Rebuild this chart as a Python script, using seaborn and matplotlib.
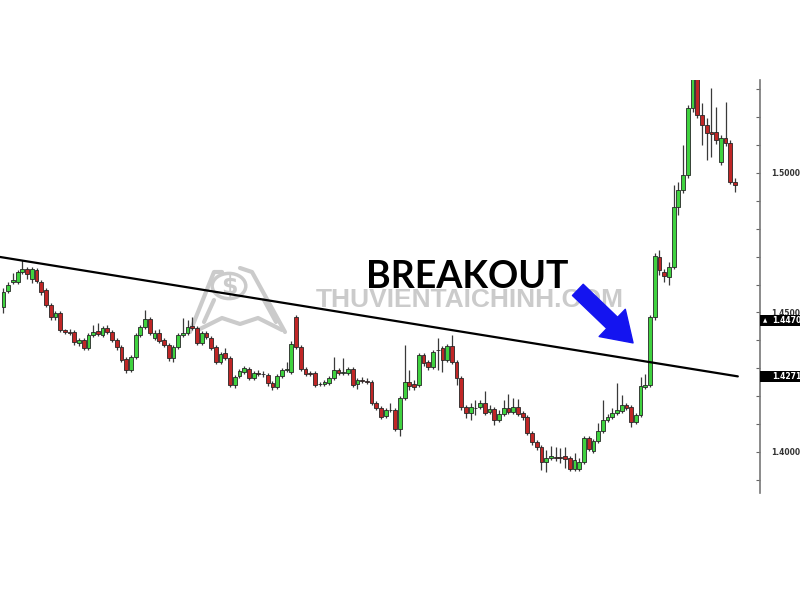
"""Candlestick chart: descending trendline and the breakout above it."""
import matplotlib
matplotlib.use("Agg")
import matplotlib.pyplot as plt
import matplotlib.transforms as mtransforms
from matplotlib.patches import Rectangle, Circle
from matplotlib.lines import Line2D
import numpy as np
import pandas as pd
import seaborn as sns

OPEN = [
    1.4520, 1.4577, 1.4609, 1.4609, 1.4645, 1.4656, 1.4620, 1.4652, 1.4609, 1.4581,
    1.4527, 1.4484, 1.4498, 1.4437, 1.4430, 1.4430, 1.4391, 1.4401, 1.4373, 1.4419,
    1.4434, 1.4419, 1.4444, 1.4430, 1.4401, 1.4377, 1.4334, 1.4294, 1.4341, 1.4419,
    1.4448, 1.4477, 1.4408, 1.4426, 1.4401, 1.4384, 1.4337, 1.4377, 1.4419, 1.4426,
    1.4452, 1.4444, 1.4391, 1.4426, 1.4408, 1.4377, 1.4323, 1.4355, 1.4337, 1.4240,
    1.4272, 1.4287, 1.4298, 1.4265, 1.4283, 1.4280, 1.4276, 1.4247, 1.4233, 1.4272,
    1.4294, 1.4287, 1.4484, 1.4377, 1.4298, 1.4283, 1.4283, 1.4244, 1.4244, 1.4247,
    1.4265, 1.4294, 1.4283, 1.4283, 1.4298, 1.4244, 1.4258, 1.4254, 1.4251, 1.4176,
    1.4158, 1.4129, 1.4151, 1.4151, 1.4083, 1.4194, 1.4251, 1.4244, 1.4240, 1.4348,
    1.4323, 1.4305, 1.4366, 1.4373, 1.4330, 1.4380, 1.4323, 1.4265, 1.4161, 1.4140,
    1.4158, 1.4161, 1.4176, 1.4144, 1.4154, 1.4115, 1.4136, 1.4158, 1.4144, 1.4161,
    1.4140, 1.4126, 1.4068, 1.4036, 1.4018, 1.3964, 1.3978, 1.3982, 1.3982, 1.3986,
    1.3978, 1.3939, 1.3939, 1.3964, 1.4050, 1.4004, 1.4040, 1.4076, 1.4115, 1.4126,
    1.4140, 1.4147, 1.4168, 1.4161, 1.4108, 1.4133, 1.4233, 1.4240, 1.4484, 1.4699,
    1.4645, 1.4627, 1.4663, 1.4878, 1.4939, 1.4993, 1.5233, 1.5340, 1.5208, 1.5172,
    1.5147, 1.5147, 1.5039, 1.5125, 1.5108, 1.4968,
]
HIGH = [
    1.4588, 1.4609, 1.4641, 1.4652, 1.4688, 1.4663, 1.4663, 1.4659, 1.4616, 1.4588,
    1.4534, 1.4505, 1.4505, 1.4441, 1.4441, 1.4437, 1.4408, 1.4408, 1.4426, 1.4455,
    1.4462, 1.4452, 1.4455, 1.4437, 1.4408, 1.4384, 1.4341, 1.4348, 1.4426, 1.4455,
    1.4509, 1.4484, 1.4437, 1.4441, 1.4408, 1.4391, 1.4384, 1.4426, 1.4480, 1.4473,
    1.4484, 1.4452, 1.4434, 1.4434, 1.4416, 1.4384, 1.4359, 1.4373, 1.4344, 1.4276,
    1.4298, 1.4309, 1.4305, 1.4290, 1.4294, 1.4290, 1.4283, 1.4254, 1.4280, 1.4301,
    1.4323, 1.4398, 1.4491, 1.4384, 1.4305, 1.4290, 1.4290, 1.4251, 1.4258, 1.4272,
    1.4341, 1.4301, 1.4337, 1.4305, 1.4305, 1.4265, 1.4269, 1.4265, 1.4258, 1.4183,
    1.4165, 1.4158, 1.4176, 1.4158, 1.4201, 1.4384, 1.4294, 1.4258, 1.4355, 1.4355,
    1.4330, 1.4366, 1.4408, 1.4380, 1.4387, 1.4419, 1.4330, 1.4272, 1.4168, 1.4176,
    1.4186, 1.4186, 1.4219, 1.4168, 1.4161, 1.4151, 1.4186, 1.4208, 1.4194, 1.4190,
    1.4147, 1.4133, 1.4076, 1.4043, 1.4025, 1.4007, 1.4022, 1.4018, 1.4014, 1.4018,
    1.3986, 1.3996, 1.3978, 1.4058, 1.4058, 1.4047, 1.4104, 1.4186, 1.4136, 1.4158,
    1.4247, 1.4204, 1.4176, 1.4168, 1.4140, 1.4269, 1.4280, 1.4491, 1.4713, 1.4724,
    1.4656, 1.4681, 1.4957, 1.4968, 1.5100, 1.5244, 1.5369, 1.5351, 1.5251, 1.5197,
    1.5305, 1.5237, 1.5136, 1.5254, 1.5118, 1.4982,
]
LOW = [
    1.4498, 1.4570, 1.4602, 1.4602, 1.4638, 1.4620, 1.4606, 1.4606, 1.4563, 1.4520,
    1.4473, 1.4473, 1.4430, 1.4423, 1.4419, 1.4384, 1.4380, 1.4366, 1.4366, 1.4412,
    1.4416, 1.4412, 1.4423, 1.4394, 1.4366, 1.4323, 1.4283, 1.4287, 1.4334, 1.4412,
    1.4441, 1.4419, 1.4401, 1.4391, 1.4377, 1.4327, 1.4323, 1.4369, 1.4412, 1.4419,
    1.4437, 1.4384, 1.4384, 1.4405, 1.4366, 1.4316, 1.4316, 1.4330, 1.4233, 1.4229,
    1.4265, 1.4280, 1.4258, 1.4258, 1.4272, 1.4269, 1.4236, 1.4222, 1.4226, 1.4265,
    1.4287, 1.4280, 1.4369, 1.4290, 1.4272, 1.4272, 1.4233, 1.4236, 1.4236, 1.4240,
    1.4258, 1.4276, 1.4276, 1.4276, 1.4233, 1.4226, 1.4247, 1.4244, 1.4168, 1.4151,
    1.4118, 1.4122, 1.4144, 1.4076, 1.4058, 1.4186, 1.4222, 1.4222, 1.4233, 1.4309,
    1.4294, 1.4298, 1.4294, 1.4287, 1.4323, 1.4316, 1.4240, 1.4151, 1.4122, 1.4115,
    1.4133, 1.4154, 1.4133, 1.4136, 1.4097, 1.4108, 1.4129, 1.4136, 1.4136, 1.4129,
    1.4115, 1.4061, 1.4025, 1.4007, 1.3935, 1.3928, 1.3971, 1.3968, 1.3960, 1.3942,
    1.3932, 1.3932, 1.3932, 1.3957, 1.4004, 1.3996, 1.4032, 1.4068, 1.4108, 1.4118,
    1.4133, 1.4140, 1.4151, 1.4090, 1.4101, 1.4126, 1.4226, 1.4233, 1.4473, 1.4634,
    1.4609, 1.4599, 1.4656, 1.4849, 1.4928, 1.4982, 1.5219, 1.5197, 1.5100, 1.5047,
    1.5057, 1.5104, 1.5029, 1.5097, 1.4961, 1.4932,
]
CLOSE = [
    1.4574, 1.4599, 1.4616, 1.4645, 1.4656, 1.4638, 1.4656, 1.4613, 1.4574, 1.4527,
    1.4484, 1.4498, 1.4437, 1.4430, 1.4428, 1.4394, 1.4401, 1.4373, 1.4419, 1.4430,
    1.4423, 1.4444, 1.4430, 1.4401, 1.4377, 1.4330, 1.4294, 1.4341, 1.4419, 1.4448,
    1.4477, 1.4426, 1.4426, 1.4398, 1.4384, 1.4337, 1.4377, 1.4419, 1.4426, 1.4448,
    1.4444, 1.4391, 1.4426, 1.4412, 1.4373, 1.4323, 1.4351, 1.4337, 1.4240, 1.4269,
    1.4290, 1.4301, 1.4265, 1.4283, 1.4281, 1.4278, 1.4247, 1.4233, 1.4272, 1.4294,
    1.4296, 1.4387, 1.4377, 1.4298, 1.4280, 1.4281, 1.4240, 1.4242, 1.4251, 1.4265,
    1.4294, 1.4283, 1.4285, 1.4298, 1.4240, 1.4258, 1.4256, 1.4252, 1.4176, 1.4158,
    1.4126, 1.4151, 1.4149, 1.4083, 1.4194, 1.4251, 1.4236, 1.4233, 1.4348, 1.4319,
    1.4305, 1.4359, 1.4364, 1.4330, 1.4380, 1.4323, 1.4265, 1.4161, 1.4140, 1.4161,
    1.4156, 1.4176, 1.4140, 1.4154, 1.4115, 1.4136, 1.4158, 1.4144, 1.4161, 1.4136,
    1.4126, 1.4068, 1.4036, 1.4018, 1.3964, 1.3978, 1.3986, 1.3980, 1.3980, 1.3975,
    1.3939, 1.3971, 1.3964, 1.4050, 1.4011, 1.4040, 1.4076, 1.4115, 1.4126, 1.4140,
    1.4151, 1.4168, 1.4158, 1.4108, 1.4133, 1.4236, 1.4240, 1.4484, 1.4702, 1.4652,
    1.4631, 1.4663, 1.4878, 1.4939, 1.4993, 1.5233, 1.5340, 1.5208, 1.5172, 1.5143,
    1.5140, 1.5118, 1.5125, 1.5108, 1.4968, 1.4957,
]

# resistance line drawn across the highs
TREND_X = [-0.74, 155.6]
TREND_Y = [1.4699, 1.4271]

TICK_VALUES = [1.39, 1.40, 1.41, 1.42, 1.43, 1.44, 1.45, 1.46,
               1.47, 1.48, 1.49, 1.50, 1.51, 1.52, 1.53]
LABEL_VALUES = [1.40, 1.45, 1.50]
LABEL_TEXT = ["1.4000", "1.4500", "1.5000"]

MARKER_VALUES = [1.4470, 1.4271]
MARKER_TEXT = ["1.4470", "1.4271"]

GREEN = "#3fd23f"
RED = "#c02626"
EDGE = "#262626"
WM = "#cbcbcb"


def px(x, y):
    # figure pixel -> figure fraction (for decorations only)
    return x / 800, 1 - y / 600


def draw_watermark(fig, ax):
    t = fig.transFigure
    ax.text(*px(470, 300), "THUVIENTAICHINH.COM", transform=t, ha="center",
            va="center", fontsize=19, fontweight="bold", color=WM,
            family="Liberation Sans", zorder=1)
    ax.add_patch(Circle(px(229, 286), 0.021, transform=t, fill=False,
                        ec=WM, lw=2.5, zorder=1, clip_on=False))
    ax.text(*px(229, 287), "$", transform=t, ha="center", va="center",
            fontsize=17, fontweight="bold", color=WM, zorder=1)
    for pts in (
        [(190, 332), (214, 272), (222, 272)],
        [(285, 332), (252, 272), (240, 268)],
        [(198, 330), (222, 318), (240, 324), (258, 318), (282, 330)],
        [(204, 322), (214, 300)],
        [(276, 322), (264, 300)],
    ):
        xs, ys = zip(*[px(a, b) for a, b in pts])
        ax.add_line(Line2D(xs, ys, transform=t, color=WM, lw=3,
                           zorder=1, clip_on=False))


def draw_candles(ax, df):
    up = df["close"] >= df["open"]
    ax.vlines(df["idx"], df["low"], df["high"], color="#3a3a3a", lw=0.9, zorder=2)
    ax.bar(df["idx"], (df["close"] - df["open"]).abs(),
           bottom=df[["open", "close"]].min(axis=1), width=0.8,
           color=np.where(up, GREEN, RED), edgecolor=EDGE, linewidth=0.6,
           zorder=3)


def main():
    sns.set_style("white")
    df = pd.DataFrame({"open": OPEN, "high": HIGH, "low": LOW, "close": CLOSE})
    df["idx"] = np.arange(len(df))

    fig = plt.figure(figsize=(8, 6), dpi=100)
    ax = fig.add_axes([0, 1 - 493 / 600, 0.95, 413 / 600])

    draw_watermark(fig, ax)
    draw_candles(ax, df)
    sns.lineplot(x=TREND_X, y=TREND_Y, ax=ax, color="black", lw=1.6, zorder=4)

    ax.set_xlim(-0.74, 160.3)
    ax.set_ylim(1.38530, 1.53333)
    ax.set_xticks([])

    labels = dict(zip(LABEL_VALUES, LABEL_TEXT))
    ax.yaxis.tick_right()
    ax.set_yticks(TICK_VALUES)
    ax.set_yticklabels([labels.get(v, "") for v in TICK_VALUES])
    ax.tick_params(axis="y", direction="in", length=3, width=0.8, color="#666666",
                   pad=8, labelsize=5.5, labelcolor="#333333")
    for lbl in ax.get_yticklabels():
        lbl.set_fontweight("bold")
    for side in ["left", "top", "bottom"]:
        ax.spines[side].set_visible(False)
    ax.spines["right"].set_color("#777777")
    ax.spines["right"].set_linewidth(1.2)

    # price boxes on the right axis
    bt = mtransforms.blended_transform_factory(ax.transAxes, ax.transData)
    for i, (v, s) in enumerate(zip(MARKER_VALUES, MARKER_TEXT)):
        ax.add_patch(Rectangle((1.0, v - 0.0020), 0.06, 0.0040, transform=bt,
                               fc="black", ec="none", clip_on=False, zorder=5))
        ax.text(1.0 + 12 / 760, v, s, transform=bt, color="white", fontsize=5.5,
                fontweight="bold", va="center", ha="left", clip_on=False, zorder=6)
        if i == 0:
            ax.text(1.0 + 3 / 760, v, "▲", transform=bt, color="white",
                    fontsize=4, va="center", ha="left", clip_on=False, zorder=6)

    fig.text(*px(467, 277), "BREAKOUT", ha="center", va="center", fontsize=27,
             fontweight="bold", family="Lato", color="black")
    ax.annotate("", xy=(133.4, 1.4391), xytext=(121.7, 1.4581),
                arrowprops=dict(arrowstyle="simple,head_length=1.3,head_width=1.7,tail_width=0.7",
                                color="#1414f0", shrinkA=0, shrinkB=0,
                                mutation_scale=16), zorder=5)

    fig.savefig("out.png", dpi=100, facecolor="white")
    plt.close(fig)


if __name__ == "__main__":
    main()
